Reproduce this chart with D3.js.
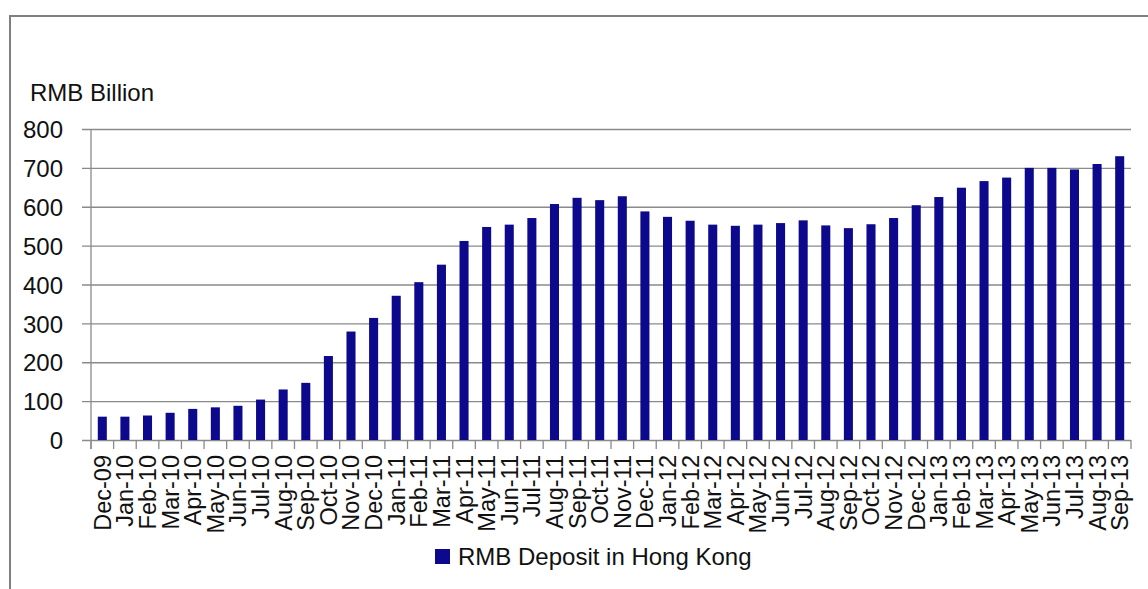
<!DOCTYPE html>
<html>
<head>
<meta charset="utf-8">
<script src="https://cdn.jsdelivr.net/npm/d3@7"></script>
<style>
  body { margin: 0; background: #fff; }
  svg text { font-family: "Liberation Sans", Arial, sans-serif; fill: #111; }
</style>
</head>
<body>
<div id="chart"></div>
<script>
// months on the x axis
var months = ["Dec-09","Jan-10","Feb-10","Mar-10","Apr-10","May-10","Jun-10","Jul-10","Aug-10","Sep-10",
    "Oct-10","Nov-10","Dec-10","Jan-11","Feb-11","Mar-11","Apr-11","May-11","Jun-11","Jul-11",
    "Aug-11","Sep-11","Oct-11","Nov-11","Dec-11","Jan-12","Feb-12","Mar-12","Apr-12","May-12",
    "Jun-12","Jul-12","Aug-12","Sep-12","Oct-12","Nov-12","Dec-12","Jan-13","Feb-13","Mar-13",
    "Apr-13","May-13","Jun-13","Jul-13","Aug-13","Sep-13"];

// RMB deposit in Hong Kong, RMB billion
var deposits = [60, 60, 63, 70, 80, 84, 88, 104, 130, 147,
    216, 279, 314, 371, 406, 451, 512, 548, 554, 571,
    607, 623, 617, 627, 588, 574, 564, 554, 551, 554,
    558, 565, 552, 545, 555, 571, 604, 625, 649, 666,
    675, 700, 700, 696, 710, 730];

var yTicks = [0, 100, 200, 300, 400, 500, 600, 700, 800];

var seriesName = "RMB Deposit in Hong Kong";
var yTitle = "RMB Billion";

var data = months.map(function(m, i) { return {month: m, value: deposits[i]}; });

const W = 1148, H = 589;
const margin = {top: 129, left: 91, right: 17, bottom: 149},
    width = W - margin.left - margin.right,
    height = H - margin.top - margin.bottom;

const svg = d3.select("#chart")
    .append("svg")
    .attr("width", W)
    .attr("height", H);

// outer frame (only top and left edges visible)
svg.append("path")
    .attr("d", "M10,589 V16 H1148")
    .attr("fill", "none")
    .attr("stroke", "#7f7f7f")
    .attr("stroke-width", 2);

const g = svg.append("g")
    .attr("transform", `translate(${margin.left},${margin.top})`);

const xScale = d3.scaleBand()
    .domain(months)
    .range([0, width])
    .paddingInner(0.6)
    .paddingOuter(0.3);

const yScale = d3.scaleLinear()
    .domain([0, 800])
    .range([height, 0]);

// gridlines + y ticks
const yAxis = d3.axisLeft(yScale)
    .tickValues(yTicks)
    .tickSize(-width)
    .tickPadding(28)
    .tickFormat(d3.format("d"));

const yAxisGroup = g.append("g")
    .attr("class", "y-axis")
    .call(yAxis);
yAxisGroup.select(".domain").remove();
yAxisGroup.selectAll(".tick line")
    .attr("x1", -9)
    .attr("stroke", "#8a8a8a")
    .attr("stroke-width", 1.3);
yAxisGroup.selectAll(".tick text")
    .style("font-size", "24px")
    .attr("dy", "0.36em");

// vertical axis line
g.append("line")
    .attr("x1", 0).attr("x2", 0)
    .attr("y1", 0).attr("y2", height + 9)
    .attr("stroke", "#8a8a8a")
    .attr("stroke-width", 1.3);

// tick marks on category boundaries
const step = xScale.step();
g.selectAll(".xtick")
    .data(d3.range(months.length + 1))
    .join("line")
    .attr("class", "xtick")
    .attr("x1", d => d * step)
    .attr("x2", d => d * step)
    .attr("y1", height)
    .attr("y2", height + 9)
    .attr("stroke", "#8a8a8a")
    .attr("stroke-width", 1.3);

// bars
g.selectAll(".bar")
    .data(data)
    .join("rect")
    .attr("class", "bar")
    .attr("x", d => xScale(d.month))
    .attr("y", d => yScale(d.value))
    .attr("width", xScale.bandwidth())
    .attr("height", d => height - yScale(d.value))
    .attr("fill", "#0c098c");

// x labels, rotated
g.selectAll(".xlabel")
    .data(months)
    .join("text")
    .attr("class", "xlabel")
    .attr("transform", d => `translate(${xScale(d) + xScale.bandwidth() / 2},${height + 15}) rotate(-90)`)
    .attr("dy", "0.36em")
    .style("text-anchor", "end")
    .style("font-size", "23.5px")
    .text(d => d);

// y title
svg.append("text")
    .attr("x", 30)
    .attr("y", 101)
    .style("font-size", "24px")
    .text(yTitle);

// legend
const legend = svg.append("g")
    .attr("transform", "translate(435,549)");
legend.append("rect")
    .attr("width", 15)
    .attr("height", 15)
    .attr("fill", "#0c098c");
legend.append("text")
    .attr("x", 23)
    .attr("y", 16)
    .style("font-size", "24px")
    .text(seriesName);
</script>
</body>
</html>
